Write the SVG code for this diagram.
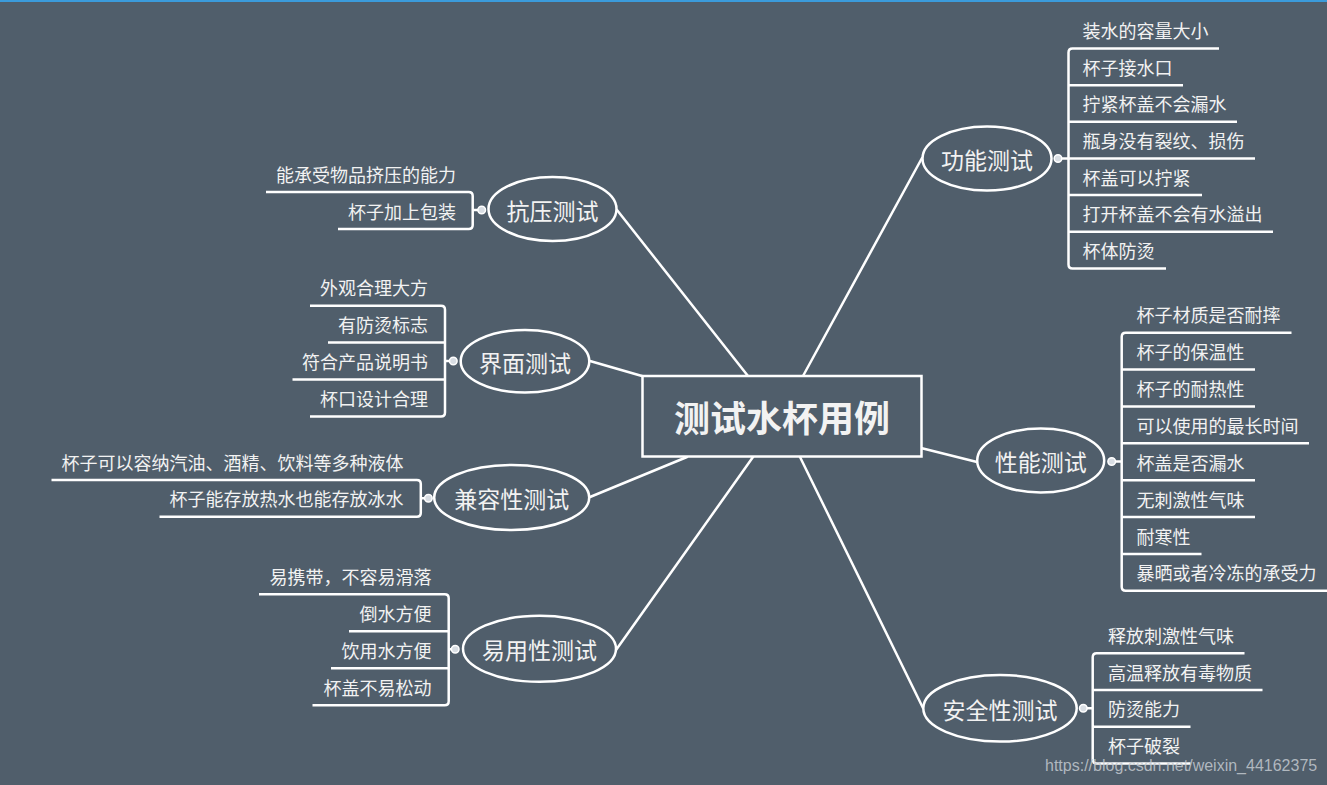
<svg xmlns="http://www.w3.org/2000/svg" width="1327" height="785" viewBox="0 0 1327 785">
<style>
.ln{stroke:#fff;stroke-width:2.5;fill:none;stroke-linecap:round}
.br{stroke:#fff;stroke-width:2.5;fill:none}
.ell{stroke:#fff;stroke-width:2.5;fill:#505e6b}
.dot{fill:#d9dee4;stroke:#fff;stroke-width:1.5}
.t{font-family:"Noto Sans CJK SC","Noto Sans",sans-serif;font-size:18px;fill:#f2f2f2}
.tl{text-anchor:end}
.et{font-family:"Noto Sans CJK SC","Noto Sans",sans-serif;font-size:23px;fill:#f2f2f2;text-anchor:middle}
.title{font-family:"Noto Sans CJK SC","Noto Sans",sans-serif;font-size:36px;font-weight:bold;fill:#f2f2f2;text-anchor:middle}
</style>
<rect x="0" y="0" width="1327" height="785" fill="#505e6b"/>
<rect x="0" y="0" width="1327" height="2" fill="#3b9bdb"/>

<g id="connectors">
<path class="ln" d="M617,210 L748,376"/>
<path class="ln" d="M590,361 L642,376"/>
<path class="ln" d="M590,497 L687,457"/>
<path class="ln" d="M616,650 L753,457"/>
<path class="ln" d="M922,158 L803,376"/>
<path class="ln" d="M921,448 L977,462"/>
<path class="ln" d="M923,708 L800,457"/>
</g>

<g id="root">
<rect x="642.5" y="376" width="279" height="80.5" fill="#505e6b" stroke="#fff" stroke-width="2.5"/>
<text class="title" x="782" y="431.5">测试水杯用例</text>
</g>

<g id="node-gongneng">
<ellipse class="ell" cx="987" cy="158.5" rx="64.5" ry="32"/>
<text class="et" x="987" y="169">功能测试</text>
<path class="br" d="M1058,158.5 H1068.5 M1219,48.5 H1072.5 Q1068.5,48.5 1068.5,52.5 V264.4 Q1068.5,268.4 1072.5,268.4 H1166 M1068.5,85.2 H1183 M1068.5,121.8 H1237 M1068.5,158.5 H1255 M1068.5,195.1 H1202 M1068.5,231.8 H1273"/>
<circle class="dot" cx="1058" cy="158.5" r="3.8"/>
<text class="t" x="1082.5" y="38">装水的容量大小</text>
<text class="t" x="1082.5" y="74.7">杯子接水口</text>
<text class="t" x="1082.5" y="111.3">拧紧杯盖不会漏水</text>
<text class="t" x="1082.5" y="148">瓶身没有裂纹、损伤</text>
<text class="t" x="1082.5" y="184.6">杯盖可以拧紧</text>
<text class="t" x="1082.5" y="221.3">打开杯盖不会有水溢出</text>
<text class="t" x="1082.5" y="257.9">杯体防烫</text>
</g>

<g id="node-xingneng">
<ellipse class="ell" cx="1040.7" cy="460.5" rx="63.5" ry="32"/>
<text class="et" x="1040.7" y="471">性能测试</text>
<path class="br" d="M1111.7,461.5 H1121.7 M1291.5,332.7 H1125.7 Q1121.7,332.7 1121.7,336.7 V586.8 Q1121.7,590.8 1125.7,590.8 H1330 M1121.7,369.5 H1255 M1121.7,406.5 H1255 M1121.7,443.3 H1309 M1121.7,480.2 H1255 M1121.7,517.1 H1255 M1121.7,554 H1201.5"/>
<circle class="dot" cx="1111.7" cy="461.5" r="3.8"/>
<text class="t" x="1136.5" y="322.2">杯子材质是否耐摔</text>
<text class="t" x="1136.5" y="359">杯子的保温性</text>
<text class="t" x="1136.5" y="396">杯子的耐热性</text>
<text class="t" x="1136.5" y="432.8">可以使用的最长时间</text>
<text class="t" x="1136.5" y="469.7">杯盖是否漏水</text>
<text class="t" x="1136.5" y="506.6">无刺激性气味</text>
<text class="t" x="1136.5" y="543.5">耐寒性</text>
<text class="t" x="1136.5" y="580.3">暴晒或者冷冻的承受力</text>
</g>

<g id="node-anquan">
<ellipse class="ell" cx="1000" cy="708.3" rx="76.7" ry="33.3"/>
<text class="et" x="1000" y="718.8">安全性测试</text>
<path class="br" d="M1083.3,708.3 H1092.7 M1244.5,653.3 H1096.7 Q1092.7,653.3 1092.7,657.3 V759.4 Q1092.7,763.4 1096.7,763.4 H1190.5 M1092.7,690 H1262.5 M1092.7,726.7 H1190.5"/>
<circle class="dot" cx="1083.3" cy="708.3" r="3.8"/>
<text class="t" x="1108" y="642.8">释放刺激性气味</text>
<text class="t" x="1108" y="679.5">高温释放有毒物质</text>
<text class="t" x="1108" y="716.2">防烫能力</text>
<text class="t" x="1108" y="752.9">杯子破裂</text>
</g>

<g id="node-kangya">
<ellipse class="ell" cx="552.5" cy="209" rx="64" ry="32"/>
<text class="et" x="552.5" y="219.5">抗压测试</text>
<path class="br" d="M481.7,210 H472.7 M266,192 H468.7 Q472.7,192 472.7,196 V225 Q472.7,229 468.7,229 H338"/>
<circle class="dot" cx="481.7" cy="210" r="3.8"/>
<text class="t tl" x="456" y="181.5">能承受物品挤压的能力</text>
<text class="t tl" x="456" y="218.5">杯子加上包装</text>
</g>

<g id="node-jiemian">
<ellipse class="ell" cx="525" cy="361.3" rx="64.3" ry="31.3"/>
<text class="et" x="525" y="371.8">界面测试</text>
<path class="br" d="M453.3,361 H445 M310,305.7 H441 Q445,305.7 445,309.7 V412.4 Q445,416.4 441,416.4 H310 M445,342.6 H328 M445,379.5 H292.5"/>
<circle class="dot" cx="453.3" cy="361" r="3.8"/>
<text class="t tl" x="428" y="295.2">外观合理大方</text>
<text class="t tl" x="428" y="332.1">有防烫标志</text>
<text class="t tl" x="428" y="369">符合产品说明书</text>
<text class="t tl" x="428" y="405.9">杯口设计合理</text>
</g>

<g id="node-jianrong">
<ellipse class="ell" cx="511.7" cy="497.5" rx="77.5" ry="32.5"/>
<text class="et" x="511.7" y="508">兼容性测试</text>
<path class="br" d="M428.4,498.3 H420.8 M51.5,480 H416.8 Q420.8,480 420.8,484 V512.7 Q420.8,516.7 416.8,516.7 H159.5"/>
<circle class="dot" cx="428.4" cy="498.3" r="3.8"/>
<text class="t tl" x="403.5" y="469.5">杯子可以容纳汽油、酒精、饮料等多种液体</text>
<text class="t tl" x="403.5" y="506.2">杯子能存放热水也能存放冰水</text>
</g>

<g id="node-yiyong">
<ellipse class="ell" cx="539.5" cy="648.8" rx="76.5" ry="33"/>
<text class="et" x="539.5" y="659.3">易用性测试</text>
<path class="br" d="M455.2,649.3 H448.7 M259,594.3 H444.7 Q448.7,594.3 448.7,598.3 V701.3 Q448.7,705.3 444.7,705.3 H312.5 M448.7,631.3 H349 M448.7,668.3 H331"/>
<circle class="dot" cx="455.2" cy="649.3" r="3.8"/>
<text class="t tl" x="431.5" y="583.8">易携带，不容易滑落</text>
<text class="t tl" x="431.5" y="620.8">倒水方便</text>
<text class="t tl" x="431.5" y="657.8">饮用水方便</text>
<text class="t tl" x="431.5" y="694.8">杯盖不易松动</text>
</g>

<text x="1045" y="771" font-family="'Liberation Sans',Arial,sans-serif" font-size="16" fill="#c3c9cf" fill-opacity="0.85">https://blog.csdn.net/weixin_44162375</text>
</svg>
